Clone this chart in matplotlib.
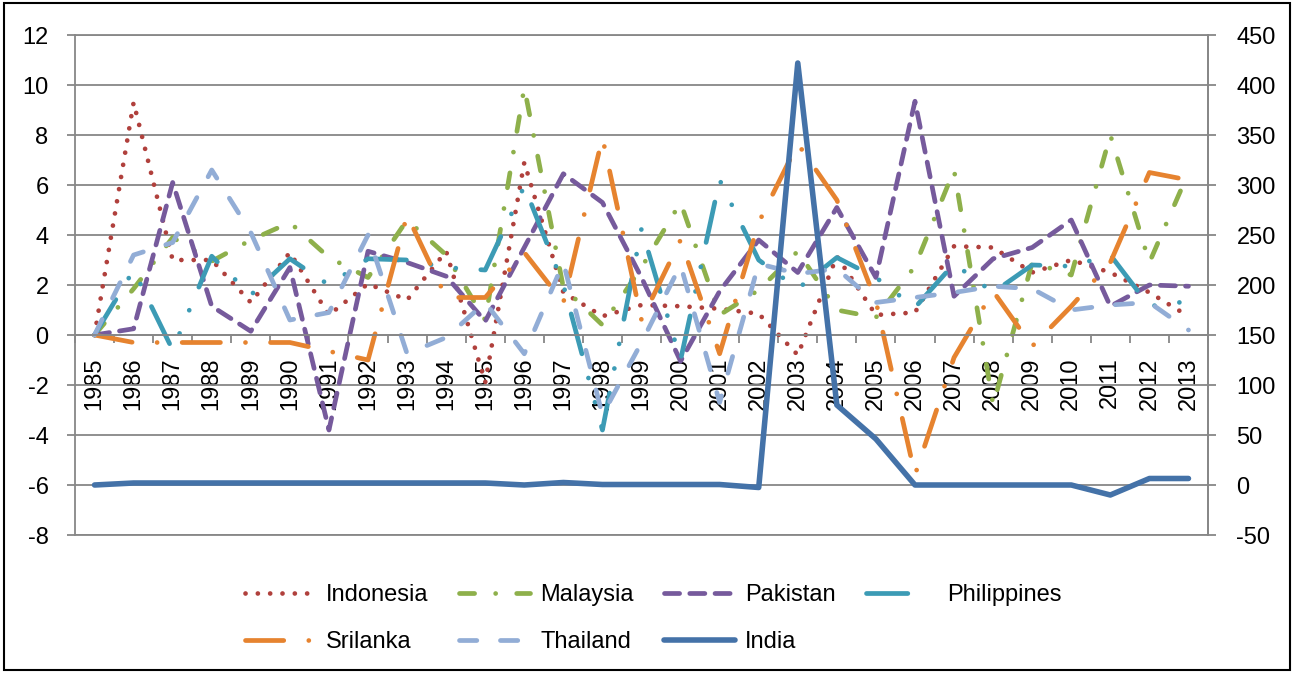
import numpy as np
import matplotlib
matplotlib.use('Agg')
import matplotlib.pyplot as plt
from matplotlib.patches import Rectangle
from matplotlib.lines import Line2D

plt.rcParams['font.family'] = ['Liberation Sans', 'DejaVu Sans']
plt.rcParams['axes.unicode_minus'] = False

years = list(range(1985, 2014))

# left axis series
indonesia = [0, 9.3, 3.0, 3.0, 1.3, 3.3, 0.8, 2.05, 1.4, 3.35, -1.9, 6.9, 1.7, 0.75, 1.2,
             1.15, 1.05, 0.85, -0.8, 3.15, 0.8, 0.9, 3.55, 3.5, 2.5, 3.0, 2.5, 1.7, 0.75]
malaysia = [0, 1.85, 3.9, 2.95, 3.8, 4.5, 3.1, 2.3, 4.6, 3.2, 0.6, 9.9, 1.9, 0.4, 2.7,
            5.3, 0.8, 1.8, 3.35, 1.0, 0.7, 2.75, 6.6, -2.8, 2.9, 2.4, 8.0, 2.9, 6.5]
pakistan = [0, 0.25, 6.1, 1.15, 0.15, 2.7, -3.8, 3.35, 2.9, 2.35, 0.55, 3.5, 6.45, 5.3, 2.3,
            -1.05, 1.75, 3.8, 2.5, 5.1, 2.3, 9.35, 1.55, 3.05, 3.5, 4.6, 1.15, 2.0, 1.95]
philippines = [0, 2.6, -0.6, 3.15, 1.6, 3.05, 2.0, 3.05, 3.0, 2.7, 2.6, 5.95, 2.0, -3.8, 4.25,
               -1.0, 6.2, 3.0, 1.85, 3.1, 2.3, 1.1, 2.85, 1.7, 2.8, 2.75, 3.2, 1.15, 1.35]
srilanka = [0, -0.3, -0.3, -0.3, -0.3, -0.3, -0.65, -1.0, 4.8, 1.5, 1.5, 3.3, 1.3, 7.9, 0.6,
            3.8, -0.75, 4.5, 7.65, 5.4, 1.35, -5.6, -0.9, 1.75, -0.45, 1.15, 2.9, 6.5, 6.2]
thailand = [0, 3.2, 3.7, 6.6, 4.1, 0.6, 0.9, 4.0, -0.75, -0.1, 1.3, -0.75, 2.9, -3.2, -0.3,
            2.8, -2.7, 2.85, 2.45, 2.65, 1.3, 1.5, 1.7, 1.95, 1.85, 1.0, 1.2, 1.3, 0.2]
# right axis series
india = [0, 2, 2, 2, 2, 2, 2, 2, 2, 2, 2, 0, 2.5, 0.5, 0.5, 0.5, 0.5, -2.5, 422, 80, 46,
         0, 0, 0, 0, 0, -10, 6.5, 6.5]

grid_col = '#878787'
lw = 3.4

fig = plt.figure(figsize=(12.94, 6.73), dpi=100)
ax = fig.add_axes([75 / 1294, 1 - 535 / 673, (1208 - 75) / 1294, 500 / 673])
ax2 = ax.twinx()

x = np.arange(len(years))
kw = dict(lw=lw, dash_capstyle='round', dash_joinstyle='round')

l_ind = ax.plot(x, indonesia, color='#B0403C', linestyle=(0, (0.01, 2.6)),
                label='Indonesia', **kw)[0]
l_mal = ax.plot(x, malaysia, color='#8EB04B', linestyle=(0, (3.2, 4.45, 0.01, 4.45)),
                label='Malaysia', **kw)[0]
l_pak = ax.plot(x, pakistan, color='#765A9C', linestyle=(0, (3.2, 2.15)),
                label='Pakistan', **kw)[0]
l_phi = ax.plot(x, philippines, color='#3C9BB5',
                linestyle=(0, (8.75, 5.3, 0.01, 5.3, 0.01, 5.3)),
                label='Philippines', **kw)[0]
l_sri = ax.plot(x, srilanka, color='#E6832F', linestyle=(0, (8.1, 5.3, 0.01, 5.3)),
                label='Srilanka', **kw)[0]
l_tha = ax.plot(x, thailand, color='#92ADD6', linestyle=(0, (3.67, 5.0)),
                label='Thailand', **kw)[0]
l_india = ax2.plot(x, india, color='#4472A8', lw=4.0, solid_joinstyle='round',
                   solid_capstyle='round', label='India')[0]

ax.set_xlim(-0.5, len(years) - 0.5)
ax.set_ylim(-8, 12)
ax.set_yticks(np.arange(-8, 13, 2))
ax2.set_ylim(-50, 450)
ax2.set_yticks(np.arange(-50, 451, 50))

ax.yaxis.grid(True, color=grid_col, lw=1.3)
ax.set_axisbelow(True)
ax.axhline(-8, color=grid_col, lw=1.3, clip_on=False, zorder=0.5)

# category axis crosses at zero
ax.spines['bottom'].set_position(('data', 0))
for s in ['bottom', 'top', 'left', 'right']:
    ax.spines[s].set_color(grid_col)
    ax.spines[s].set_linewidth(1.3)
for s in ['bottom', 'top', 'left']:
    ax2.spines[s].set_visible(False)
ax2.spines['right'].set_color(grid_col)
ax2.spines['right'].set_linewidth(1.3)

ax.set_xticks(np.arange(-0.5, len(years), 1))
ax.set_xticklabels([])
ax.set_xticks(x, minor=True)
ax.set_xticklabels([str(y) for y in years], minor=True, rotation=90)
ax.tick_params(axis='x', which='major', direction='out', length=5.5, width=1.3,
               color=grid_col)
ax.tick_params(axis='x', which='minor', length=0, pad=16, labelsize=17)
ax.tick_params(axis='y', direction='out', length=5.5, width=1.3, color=grid_col,
               pad=13.5, labelsize=17)
ax2.tick_params(axis='y', direction='out', length=5.5, width=1.3, color=grid_col,
                pad=15, labelsize=17)

# legend, rows read Indonesia..Philippines / Srilanka, Thailand, India
# philippines sample shows only its long dash
phi_key = Line2D([], [], color='#3C9BB5', lw=lw, linestyle=(0, (8.75, 20)),
                 dash_capstyle='round')
handles = [l_ind, l_sri, l_mal, l_tha, l_pak, l_india, phi_key]
labels = ['Indonesia', 'Srilanka', 'Malaysia', 'Thailand', 'Pakistan', 'India',
          'Philippines']
fig.legend(handles, labels, ncol=4, loc='center',
           bbox_to_anchor=(0.505, 0.081), frameon=False, fontsize=17,
           handlelength=3.0, handletextpad=0.42, columnspacing=1.3, labelspacing=1.05)

fig.add_artist(Rectangle((0.003, 0.004), 0.994, 0.992, transform=fig.transFigure,
                         fill=False, edgecolor='black', lw=1.5))

fig.savefig('out.png', dpi=100)
